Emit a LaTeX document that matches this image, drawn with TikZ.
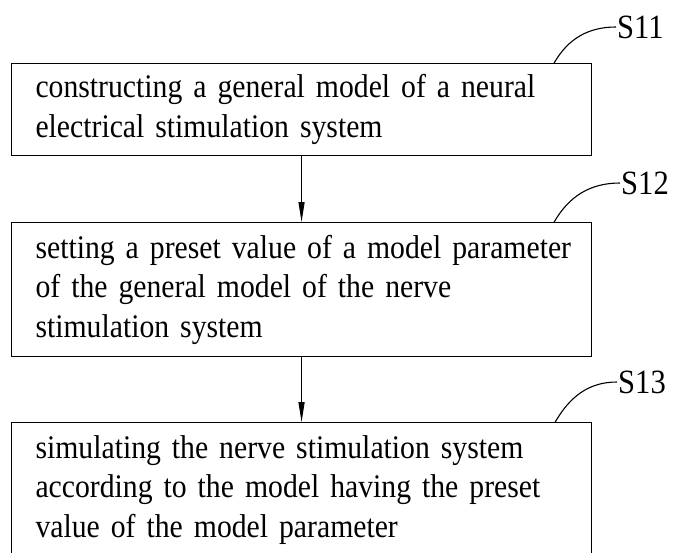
\documentclass[tikz,border=0pt]{standalone}
\usepackage{fontspec}
\setmainfont{Liberation Serif}[FakeStretch=0.9]
\usetikzlibrary{arrows.meta, positioning}

\begin{document}
\begin{tikzpicture}[
    x=1pt, y=1pt,
    node distance=65pt,
    stepbox/.style={draw, line width=1.1pt, minimum width=580pt, text width=560pt, inner xsep=10pt, align=left,
        execute at begin node={\leftskip=14pt\hyphenpenalty=10000}, font=\fontsize{33}{39.5}\selectfont},
    steplbl/.style={font=\fontsize{34}{36}\selectfont, inner sep=1pt, anchor=west},
    ar/.style={-{Triangle[length=20pt, width=6pt]}, line width=1.1pt},
    lead/.style={line width=1.1pt}
]
\useasboundingbox (0,0) rectangle (675,-552);
\node[stepbox, minimum height=92pt, anchor=north west] (b1) at (11,-63) {constructing a general model of a neural\\ electrical stimulation system};
\node[stepbox, minimum height=134pt, below=66pt of b1] (b2) {setting a preset value of a model parameter\\ of the general model of the nerve\\ stimulation system};
\node[stepbox, minimum height=134pt, below=of b2] (b3) {simulating the nerve stimulation system\\ according to the model having the preset\\ value of the model parameter};
\node[steplbl] (l1) at (616,-27) {S11};
\node[steplbl] (l2) at (620,-183) {S12};
\node[steplbl] (l3) at (617,-382) {S13};
\draw[ar] (b1) -- (b2);
\draw[ar] (b2) -- (b3);
\draw[lead] ([xshift=-38pt]b1.north east) to[out=60,in=180] (l1.west);
\draw[lead] ([xshift=-38pt]b2.north east) to[out=60,in=180] (l2.west);
\draw[lead] ([xshift=-37pt]b3.north east) to[out=60,in=180] (l3.west);
\end{tikzpicture}
\end{document}
